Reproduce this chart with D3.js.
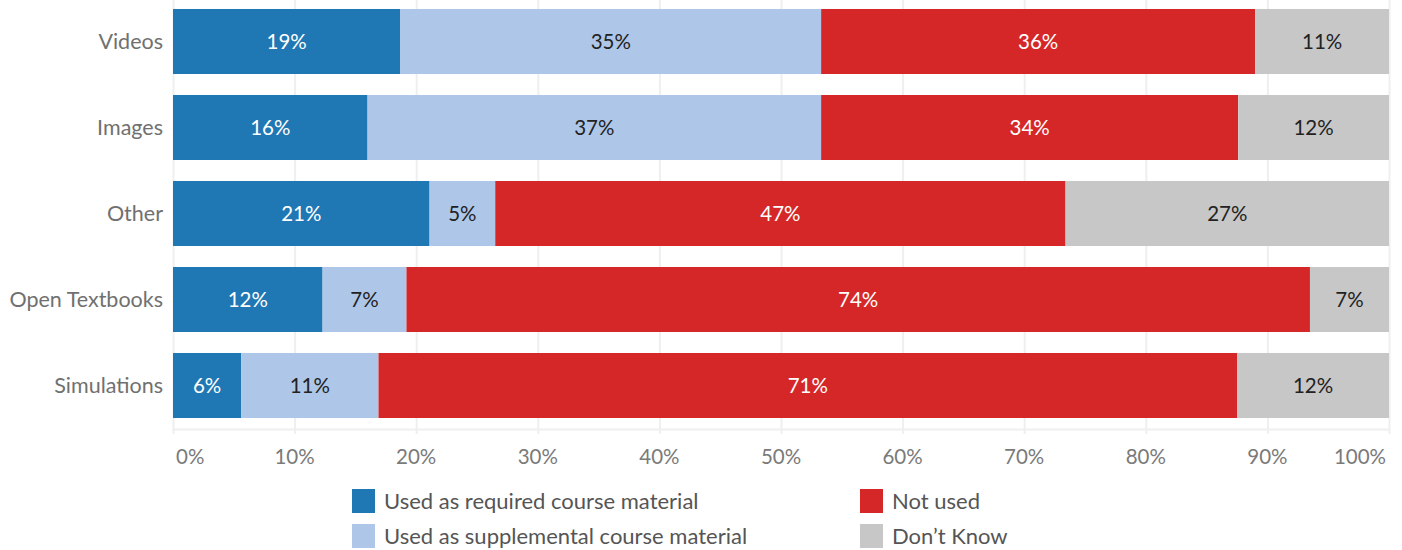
<!DOCTYPE html>
<html><head><meta charset="utf-8">
<script src="https://cdn.jsdelivr.net/npm/d3@7"></script>
<style>
body{margin:0;background:#fff;}
svg{display:block;font-family:Lato,"Open Sans",sans-serif;}
</style></head>
<body><svg id="c" width="1402" height="550"></svg>
<script>
const categories = ["Videos","Images","Other","Open Textbooks","Simulations"];
const seriesNames = ["Used as required course material","Used as supplemental course material","Not used","Don\u2019t Know"];
const required     = [18.7, 16.0, 21.1, 12.3, 5.6];
const supplemental = [34.6, 37.3, 5.4, 6.9, 11.3];
const notUsed      = [35.7, 34.3, 46.9, 74.3, 70.6];
const dontKnow     = [11.0, 12.4, 26.6, 6.5, 12.5];
const labelRequired     = ["19%","16%","21%","12%","6%"];
const labelSupplemental = ["35%","37%","5%","7%","11%"];
const labelNotUsed      = ["36%","34%","47%","74%","71%"];
const labelDontKnow     = ["11%","12%","27%","7%","12%"];
const tickValues = [0,10,20,30,40,50,60,70,80,90,100];
const tickLabels = ["0%","10%","20%","30%","40%","50%","60%","70%","80%","90%","100%"];
const colors = ["#1f77b4","#aec7e8","#d62728","#c7c7c7"];
const textColors = ["#ffffff","#222222","#ffffff","#222222"];

const seriesVals = [required, supplemental, notUsed, dontKnow];
const seriesLabels = [labelRequired, labelSupplemental, labelNotUsed, labelDontKnow];
const rows = categories.map((c,i)=>{const o={cat:c}; seriesNames.forEach((s,j)=>o[s]=seriesVals[j][i]); return o;});
const stacked = d3.stack().keys(seriesNames)(rows);

const svg = d3.select("#c");
const x = d3.scaleLinear().domain([0,100]).range([173,1389]);
const y = d3.scaleBand().domain(categories).range([-1.5,428.5]).paddingInner(0.244).paddingOuter(0.122);

// gridlines
svg.append("g").selectAll("line").data(tickValues).join("line")
  .attr("x1",d=>x(d)+0.5).attr("x2",d=>x(d)+0.5).attr("y1",0).attr("y2",434)
  .attr("stroke","#efefef").attr("stroke-width",2);
svg.append("line").attr("x1",173).attr("x2",1389).attr("y1",429.5).attr("y2",429.5)
  .attr("stroke","#efefef").attr("stroke-width",2);

// bars
stacked.forEach((layer,j)=>{
  const g = svg.append("g");
  g.selectAll("rect").data(layer).join("rect")
    .attr("x",d=>x(d[0])).attr("width",d=>x(d[1])-x(d[0]))
    .attr("y",d=>y(d.data.cat)).attr("height",y.bandwidth())
    .attr("fill",colors[j]);
  g.selectAll("text").data(layer).join("text")
    .attr("x",d=>(x(d[0])+x(d[1]))/2).attr("y",d=>y(d.data.cat)+y.bandwidth()/2)
    .attr("dy","0.35em").attr("text-anchor","middle")
    .attr("font-size",20.5).attr("fill",textColors[j])
    .text((d,i)=>seriesLabels[j][i]);
});

// y labels
svg.append("g").selectAll("text").data(categories).join("text")
  .attr("x",163).attr("y",d=>y(d)+y.bandwidth()/2).attr("dy","0.35em")
  .attr("text-anchor","end").attr("font-size",21.5).attr("fill","#707070").text(d=>d);

// x axis labels
svg.append("g").selectAll("text").data(tickValues).join("text")
  .attr("x",(d,i)=> i===0 ? x(d)+3 : (i===tickValues.length-1 ? x(d)-3 : x(d)))
  .attr("y",457).attr("dy","0.35em")
  .attr("text-anchor",(d,i)=> i===0 ? "start" : (i===tickValues.length-1 ? "end" : "middle"))
  .attr("font-size",20.5).attr("fill","#7a7a7a").text((d,i)=>tickLabels[i]);

// legend
const legendPos = [[352,489],[352,524],[860,489],[860,524]];
const lg = svg.append("g").selectAll("g").data(seriesNames).join("g")
  .attr("transform",(d,i)=>`translate(${legendPos[i][0]},${legendPos[i][1]})`);
lg.append("rect").attr("width",23).attr("height",24).attr("fill",(d,i)=>colors[i]);
lg.append("text").attr("x",32).attr("y",12).attr("dy","0.35em")
  .attr("font-size",22).attr("fill","#555").text(d=>d);
</script></body></html>
